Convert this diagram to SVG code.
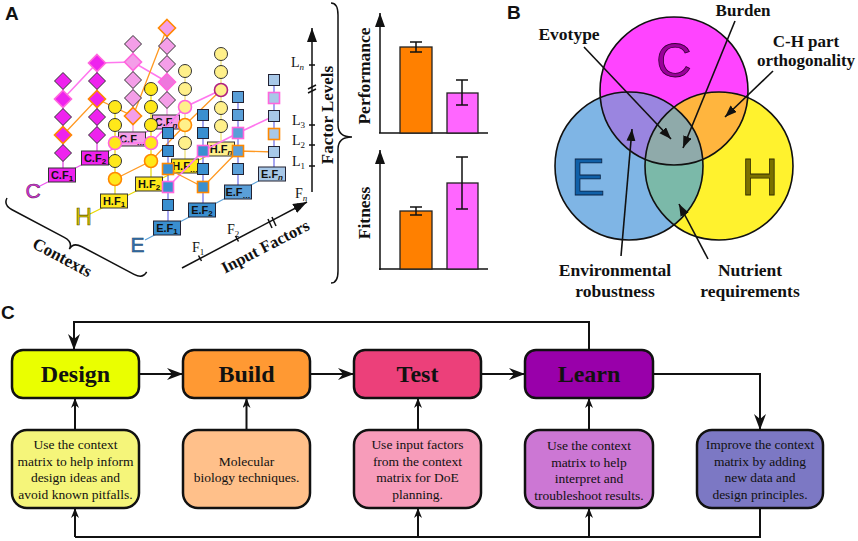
<svg xmlns="http://www.w3.org/2000/svg" width="858" height="541" viewBox="0 0 858 541">
<style>
.sb{font-family:"Liberation Serif","Times New Roman",serif;font-weight:bold;fill:#111}
.s{font-family:"Liberation Serif","Times New Roman",serif;fill:#111}
.pl{font-family:"Liberation Sans",Arial,sans-serif;font-weight:bold;font-size:19px;fill:#111}
.lb{font-family:"Liberation Sans",Arial,sans-serif;font-weight:bold;font-size:11px;fill:#111;text-anchor:middle}
.st{stroke:#111;stroke-width:2.5}
.ln{fill:none;stroke:#111;stroke-width:2}
.thin{fill:none;stroke:#111;stroke-width:1.5}
.dC{fill:#ee22ee;stroke:#333;stroke-width:1}
.dCl{fill:#f49ee8;stroke:#333;stroke-width:1}
.cH{fill:#ffe81a;stroke:#333;stroke-width:1}
.cHl{fill:#fff08a;stroke:#333;stroke-width:1}
.sE{fill:#3a8fd0;stroke:#223;stroke-width:1}
.sEm{fill:#5a9fd8;stroke:#223;stroke-width:1}
.sEl{fill:#a8c8e8;stroke:#223;stroke-width:1}
.pk{stroke:#ff66dd !important;stroke-width:1.6 !important}
.or{stroke:#ff8800 !important;stroke-width:1.6 !important}
.pkl{fill:none;stroke:#ff77ee;stroke-width:1.6}
.orl{fill:none;stroke:#ff9922;stroke-width:1.3}
</style>
<defs>
<marker id="ah" markerUnits="userSpaceOnUse" markerWidth="18" markerHeight="14" refX="16" refY="6" orient="auto"><path d="M0,0 L16,6 L0,12 L5,6z" fill="#111"/></marker>
<marker id="as" markerUnits="userSpaceOnUse" markerWidth="12" markerHeight="10" refX="10" refY="4" orient="auto"><path d="M0,0 L10,4 L0,8 L3,4z" fill="#111"/></marker>
<marker id="av" markerUnits="userSpaceOnUse" markerWidth="14" markerHeight="10" refX="12" refY="4.5" orient="auto"><path d="M0,0 L12,4.5 L0,9 z" fill="#111"/></marker>
<marker id="ax" markerUnits="userSpaceOnUse" markerWidth="16" markerHeight="12" refX="14" refY="5" orient="auto"><path d="M0,0 L14,5 L0,10 z" fill="#111"/></marker>
<clipPath id="kC"><circle cx="674" cy="91" r="74"/></clipPath>
<clipPath id="kE"><circle cx="629" cy="166" r="74"/></clipPath>
<path id="dm" d="M0,-8.5 L8.5,0 L0,8.5 L-8.5,0z"/>
</defs>
<rect width="858" height="541" fill="#fff"/>

<!-- Panel labels -->
<text class="pl" x="5" y="20">A</text>
<text class="pl" x="507" y="19">B</text>
<text class="pl" x="1" y="319">C</text>

<!-- ===== Panel A: C layer ===== -->
<g id="layerC">
<g stroke="#e040e0" stroke-width="1.2">
<line x1="63" y1="81" x2="63" y2="175"/><line x1="97" y1="63" x2="97" y2="158"/>
<line x1="133" y1="44" x2="133" y2="139" stroke="#f090e0"/><line x1="167" y1="28" x2="167" y2="122" stroke="#f090e0"/>
<line x1="38" y1="187" x2="166" y2="122" stroke="#ee55ee"/>
</g>
<polyline class="pkl" points="63,99 97,63 133,62 167,82"/>
<polyline class="orl" points="63,135 97,99 133,116 167,28"/>
<use href="#dm" x="63" y="81" class="dC"/><use href="#dm" x="63" y="99" class="dC pk"/><use href="#dm" x="63" y="117" class="dC"/><use href="#dm" x="63" y="135" class="dC or"/><use href="#dm" x="63" y="153" class="dC"/>
<use href="#dm" x="97" y="63" class="dC pk"/><use href="#dm" x="97" y="81" class="dC"/><use href="#dm" x="97" y="99" class="dC or"/><use href="#dm" x="97" y="117" class="dC"/><use href="#dm" x="97" y="135" class="dC"/>
<use href="#dm" x="133" y="44" class="dCl"/><use href="#dm" x="133" y="62" class="dCl pk"/><use href="#dm" x="133" y="80" class="dCl"/><use href="#dm" x="133" y="98" class="dCl"/><use href="#dm" x="133" y="116" class="dCl or"/>
<use href="#dm" x="167" y="28" class="dCl or"/><use href="#dm" x="167" y="46" class="dCl"/><use href="#dm" x="167" y="64" class="dCl"/><use href="#dm" x="167" y="82" class="dCl pk" style="fill:#ee77dd"/><use href="#dm" x="167" y="100" class="dCl"/>
<rect x="48.5" y="168" width="27" height="14" class="dC"/><text class="lb" x="62" y="179">C.F<tspan font-size="8" dy="2">1</tspan></text>
<rect x="81.5" y="151" width="27" height="14" class="dC"/><text class="lb" x="95" y="162">C.F<tspan font-size="8" dy="2">2</tspan></text>
<rect x="118.5" y="132" width="27" height="14" class="dCl"/><text class="lb" x="132" y="143">C.F<tspan font-size="8" dy="2">…</tspan></text>
<rect x="152.5" y="115" width="27" height="14" class="dCl"/><text class="lb" x="166" y="126">C.F<tspan font-size="8" dy="2" font-style="italic">n</tspan></text>
<text x="33" y="198" font-family="Liberation Sans,Arial,sans-serif" font-size="21" text-anchor="middle" fill="#dd33dd" stroke="#662266" stroke-width="0.6">C</text>
</g>

<!-- ===== H layer ===== -->
<g id="layerH">
<g stroke="#e8d800" stroke-width="1.2">
<line x1="115" y1="107" x2="115" y2="201"/><line x1="151" y1="89" x2="151" y2="184"/>
<line x1="185" y1="71" x2="185" y2="166" stroke="#ece070"/><line x1="221" y1="54" x2="221" y2="149" stroke="#ece070"/>
<line x1="90" y1="214" x2="221" y2="149"/>
</g>
<polyline class="pkl" points="115,143 151,143 185,107 221,90"/>
<polyline class="orl" points="115,179 151,161 185,125 221,90"/>
<g>
<circle cx="115" cy="107" r="6.5" class="cH"/><circle cx="115" cy="125" r="6.5" class="cH"/><circle cx="115" cy="143" r="6.5" class="cH pk"/><circle cx="115" cy="161" r="6.5" class="cH"/><circle cx="115" cy="179" r="6.5" class="cH or"/>
<circle cx="151" cy="89" r="6.5" class="cH"/><circle cx="151" cy="107" r="6.5" class="cH"/><circle cx="151" cy="125" r="6.5" class="cH"/><circle cx="151" cy="143" r="6.5" class="cH pk"/><circle cx="151" cy="161" r="6.5" class="cH or"/>
<circle cx="185" cy="71" r="6.5" class="cHl"/><circle cx="185" cy="89" r="6.5" class="cHl"/><circle cx="185" cy="107" r="6.5" class="cHl pk"/><circle cx="185" cy="125" r="6.5" class="cHl or"/><circle cx="185" cy="143" r="6.5" class="cHl"/>
<circle cx="221" cy="54" r="6.5" class="cHl"/><circle cx="221" cy="72" r="6.5" class="cHl"/><circle cx="221" cy="90" r="6.5" class="cHl" style="stroke:#b02080;stroke-width:1.6"/><circle cx="221" cy="108" r="6.5" class="cHl"/><circle cx="221" cy="126" r="6.5" class="cHl"/>
</g>
<rect x="100.5" y="194" width="27" height="14" class="cH"/><text class="lb" x="114" y="205">H.F<tspan font-size="8" dy="2">1</tspan></text>
<rect x="135.5" y="177" width="27" height="14" class="cH"/><text class="lb" x="149" y="188">H.F<tspan font-size="8" dy="2">2</tspan></text>
<rect x="171.5" y="159" width="27" height="14" class="cH"/><text class="lb" x="185" y="170">H.F<tspan font-size="8" dy="2">…</tspan></text>
<rect x="207.5" y="142" width="27" height="14" class="cHl"/><text class="lb" x="221" y="153">H.F<tspan font-size="8" dy="2" font-style="italic">n</tspan></text>
<text x="83.5" y="225" font-family="Liberation Sans,Arial,sans-serif" font-size="23" text-anchor="middle" fill="#d8c400" stroke="#555000" stroke-width="0.6">H</text>
</g>

<!-- ===== E layer ===== -->
<g id="layerE">
<g stroke="#6a6ae8" stroke-width="1.2">
<line x1="168" y1="133" x2="168" y2="228"/><line x1="203" y1="115" x2="203" y2="210"/>
<line x1="238" y1="97" x2="238" y2="192"/><line x1="274" y1="80" x2="274" y2="174"/>
<line x1="145" y1="240" x2="272" y2="174" stroke="#5aa0d8"/>
</g>
<polyline class="pkl" points="168,187 203,151 238,133 274,116"/>
<polyline class="orl" points="168,169 203,187 238,151 274,152"/>
<g>
<rect x="162.5" y="127.5" width="11" height="11" class="sE"/><rect x="162.5" y="145.5" width="11" height="11" class="sE"/><rect x="162.5" y="163.5" width="11" height="11" class="sE or"/><rect x="162.5" y="181.5" width="11" height="11" class="sE pk"/><rect x="162.5" y="199.5" width="11" height="11" class="sE"/>
<rect x="197.5" y="109.5" width="11" height="11" class="sE"/><rect x="197.5" y="127.5" width="11" height="11" class="sE"/><rect x="197.5" y="145.5" width="11" height="11" class="sE pk"/><rect x="197.5" y="163.5" width="11" height="11" class="sE"/><rect x="197.5" y="181.5" width="11" height="11" class="sE or"/>
<rect x="232.5" y="91.5" width="11" height="11" class="sEm"/><rect x="232.5" y="109.5" width="11" height="11" class="sEm"/><rect x="232.5" y="127.5" width="11" height="11" class="sEm pk"/><rect x="232.5" y="145.5" width="11" height="11" class="sEm or"/><rect x="232.5" y="163.5" width="11" height="11" class="sEm"/>
<rect x="268.5" y="74.5" width="11" height="11" class="sEl"/><rect x="268.5" y="92.5" width="11" height="11" class="sEl pk"/><rect x="268.5" y="110.5" width="11" height="11" class="sEl"/><rect x="268.5" y="128.5" width="11" height="11" class="sEl or"/><rect x="268.5" y="146.5" width="11" height="11" class="sEl"/>
</g>
<rect x="153.5" y="221" width="27" height="14" class="sE"/><text class="lb" x="167" y="232">E.F<tspan font-size="8" dy="2">1</tspan></text>
<rect x="188.5" y="203" width="27" height="14" class="sE"/><text class="lb" x="202" y="214">E.F<tspan font-size="8" dy="2">2</tspan></text>
<rect x="224.5" y="185" width="27" height="14" class="sEm"/><text class="lb" x="238" y="196">E.F<tspan font-size="8" dy="2">…</tspan></text>
<rect x="258.5" y="167" width="27" height="14" class="sEl"/><text class="lb" x="272" y="178">E.F<tspan font-size="8" dy="2" font-style="italic">n</tspan></text>
<text x="137.5" y="252" font-family="Liberation Sans,Arial,sans-serif" font-size="21" text-anchor="middle" fill="#3378b8" stroke="#1a3a60" stroke-width="0.5">E</text>
</g>

<!-- Contexts brace -->
<g id="contexts">
<path class="thin" transform="translate(7,198) rotate(27.9)" d="M0,0 Q0,8 10,8 L69,8 Q79,8 79,16 Q79,8 89,8 L148,8 Q158,8 158,0"/>
<text class="sb" font-size="17" text-anchor="middle" transform="translate(62,258) rotate(28)" y="5">Contexts</text>
</g>

<!-- Input factors axis -->
<g id="inputAxis">
<line class="thin" x1="182" y1="268" x2="307" y2="202" marker-end="url(#ax)"/>
<g class="thin">
<line x1="198.5" y1="255.5" x2="201.5" y2="261"/>
<line x1="235.5" y1="236" x2="238.5" y2="241.5"/>
<line x1="268" y1="219" x2="272" y2="228"/><line x1="272" y1="217" x2="276" y2="226"/>
<line x1="297.5" y1="203.5" x2="300.5" y2="209"/>
</g>
<text class="s" font-size="14" x="192" y="252">F<tspan font-size="9" dy="3">1</tspan></text>
<text class="s" font-size="14" x="227" y="234">F<tspan font-size="9" dy="3">2</tspan></text>
<text class="s" font-size="14" x="295" y="198">F<tspan font-size="9" dy="3" font-style="italic">n</tspan></text>
<text class="sb" font-size="16.5" text-anchor="middle" transform="translate(265,246) rotate(-27.5)" y="6">Input Factors</text>
</g>

<!-- Factor levels axis -->
<g id="levelAxis">
<line class="thin" x1="312" y1="192" x2="312" y2="28" marker-end="url(#ax)"/>
<g class="thin">
<line x1="309" y1="65" x2="315" y2="65"/><line x1="309" y1="125" x2="315" y2="125"/><line x1="309" y1="145" x2="315" y2="145"/><line x1="309" y1="166" x2="315" y2="166"/>
<line x1="308" y1="89" x2="316" y2="85"/><line x1="308" y1="93" x2="316" y2="89"/>
</g>
<text class="s" font-size="14" x="291" y="67">L<tspan font-size="9" dy="3" font-style="italic">n</tspan></text>
<text class="s" font-size="14" x="292" y="125">L<tspan font-size="9" dy="3">3</tspan></text>
<text class="s" font-size="14" x="292" y="145">L<tspan font-size="9" dy="3">2</tspan></text>
<text class="s" font-size="14" x="292" y="166">L<tspan font-size="9" dy="3">1</tspan></text>
<text class="sb" font-size="17" text-anchor="middle" transform="translate(333,115) rotate(-90)">Factor Levels</text>
</g>

<!-- right brace -->
<path id="bigBrace" class="thin" d="M331,3 Q338,3 338,15 L338,125 Q338,137 352,137 Q338,137 338,149 L338,271 Q338,283 331,283"/>

<!-- Performance chart -->
<g id="perfChart">
<line class="thin" x1="380" y1="133" x2="380" y2="13" marker-end="url(#ax)"/>
<line class="thin" x1="379" y1="133" x2="488" y2="133"/>
<rect x="400" y="47" width="32" height="86" fill="#ff8000" stroke="#222" stroke-width="1.3"/>
<rect x="447" y="93" width="31" height="40" fill="#ff66ff" stroke="#222" stroke-width="1.3"/>
<path class="thin" d="M410,42 H422 M416,42 V52 M410,52 H422 M456,80 H468 M462,80 V105 M456,105 H468"/>
<text class="sb" font-size="17.5" text-anchor="middle" transform="translate(370,76) rotate(-90)">Performance</text>
</g>
<!-- Fitness chart -->
<g id="fitChart">
<line class="thin" x1="380" y1="270" x2="380" y2="150" marker-end="url(#ax)"/>
<line class="thin" x1="379" y1="269" x2="488" y2="269"/>
<rect x="400" y="211" width="32" height="58" fill="#ff8000" stroke="#222" stroke-width="1.3"/>
<rect x="447" y="183" width="31" height="86" fill="#ff66ff" stroke="#222" stroke-width="1.3"/>
<path class="thin" d="M410,207 H422 M416,207 V215 M410,215 H422 M456,157 H468 M462,157 V209 M456,209 H468"/>
<text class="sb" font-size="17.5" text-anchor="middle" transform="translate(370,213) rotate(-90)">Fitness</text>
</g>

<!-- ===== Panel B: Venn ===== -->
<g id="venn">
<circle cx="674" cy="91" r="74" fill="#ff44ff"/>
<circle cx="629" cy="166" r="74" fill="#7fb5e5"/>
<circle cx="719" cy="166" r="74" fill="#fff22e"/>
<g clip-path="url(#kC)"><circle cx="629" cy="166" r="74" fill="#9a85e0"/><circle cx="719" cy="166" r="74" fill="#ffb53e"/></g>
<g clip-path="url(#kE)"><circle cx="719" cy="166" r="74" fill="#7bb9a9"/></g>
<g clip-path="url(#kC)"><g clip-path="url(#kE)"><circle cx="719" cy="166" r="74" fill="#8faaaa"/></g></g>
<g fill="none" stroke="#111" stroke-width="1.6">
<circle cx="674" cy="91" r="74"/><circle cx="629" cy="166" r="74"/><circle cx="719" cy="166" r="74"/>
</g>
<text x="674" y="77" font-family="Liberation Sans,Arial,sans-serif" font-size="49" text-anchor="middle" fill="#990099" stroke="#330033" stroke-width="0.8">C</text>
<text x="588" y="195" font-family="Liberation Sans,Arial,sans-serif" font-size="51" text-anchor="middle" fill="#1060a8" stroke="#0a2040" stroke-width="0.8">E</text>
<text x="760" y="195" font-family="Liberation Sans,Arial,sans-serif" font-size="51" text-anchor="middle" fill="#7a7000" stroke="#302c00" stroke-width="0.8">H</text>
</g>
<g id="vennLabels">
<text class="sb" font-size="17.5" text-anchor="middle" x="569" y="40">Evotype</text>
<text class="sb" font-size="17" text-anchor="middle" x="743" y="16">Burden</text>
<text class="sb" font-size="17" text-anchor="middle" x="806" y="47">C-H part</text>
<text class="sb" font-size="17" text-anchor="middle" x="806" y="66">orthogonality</text>
<text class="sb" font-size="17.5" text-anchor="middle" x="615" y="276">Environmental</text>
<text class="sb" font-size="17.5" text-anchor="middle" x="615" y="297">robustness</text>
<text class="sb" font-size="17.5" text-anchor="middle" x="750" y="276">Nutrient</text>
<text class="sb" font-size="17.5" text-anchor="middle" x="750" y="297">requirements</text>
</g>
<g id="vennArrows" stroke="#111" stroke-width="1.6" fill="none">
<line x1="584" y1="47" x2="671" y2="139" marker-end="url(#av)"/>
<line x1="735" y1="21" x2="683" y2="148" marker-end="url(#av)"/>
<line x1="773" y1="71" x2="725" y2="117" marker-end="url(#av)"/>
<line x1="621" y1="256" x2="632" y2="129" marker-end="url(#av)"/>
<line x1="708" y1="259" x2="679" y2="204" marker-end="url(#av)"/>
</g>

<!-- ===== Panel C ===== -->
<g id="connectors">
<line class="ln" x1="139" y1="374" x2="183" y2="374" marker-end="url(#ah)"/>
<line class="ln" x1="310" y1="374" x2="354" y2="374" marker-end="url(#ah)"/>
<line class="ln" x1="481" y1="374" x2="525" y2="374" marker-end="url(#ah)"/>
<polyline class="ln" points="589,350 589,322 74,322 74,350" marker-end="url(#ah)"/>
<polyline class="ln" points="653,374 760,374 760,430" marker-end="url(#ah)"/>
<line class="ln" x1="75" y1="430" x2="75" y2="398" marker-end="url(#as)"/>
<line class="ln" x1="246.5" y1="430" x2="246.5" y2="398" marker-end="url(#as)"/>
<line class="ln" x1="418" y1="430" x2="418" y2="398" marker-end="url(#as)"/>
<line class="ln" x1="589" y1="430" x2="589" y2="398" marker-end="url(#as)"/>
<polyline class="ln" points="760,508 760,537 75,537"/>
<line class="ln" x1="75" y1="537" x2="75" y2="508" marker-end="url(#as)"/>
<line class="ln" x1="418" y1="537" x2="418" y2="508" marker-end="url(#as)"/>
<line class="ln" x1="589" y1="537" x2="589" y2="508" marker-end="url(#as)"/>
</g>
<g id="design"><rect class="st" x="12" y="350" width="127" height="48" rx="11" fill="#eaff00"/><text class="sb" font-size="24" text-anchor="middle" x="75.5" y="382">Design</text></g>
<g id="build"><rect class="st" x="183" y="350" width="127" height="48" rx="11" fill="#ff9933"/><text class="sb" font-size="24" text-anchor="middle" x="246.5" y="382">Build</text></g>
<g id="test"><rect class="st" x="354" y="350" width="127" height="48" rx="11" fill="#ec407a"/><text class="sb" font-size="24" text-anchor="middle" x="417.5" y="382">Test</text></g>
<g id="learn"><rect class="st" x="525" y="350" width="128" height="48" rx="11" fill="#9900aa"/><text class="sb" font-size="24" text-anchor="middle" x="589" y="382">Learn</text></g>

<g id="designDesc"><rect class="st" x="12" y="430" width="127" height="78" rx="15" fill="#f5f57a"/>
<text class="s" font-size="13.5" text-anchor="middle"><tspan x="75.5" y="449">Use the context</tspan><tspan x="75.5" y="465.5">matrix to help inform</tspan><tspan x="75.5" y="482">design ideas and</tspan><tspan x="75.5" y="498.5">avoid known pitfalls.</tspan></text></g>
<g id="buildDesc"><rect class="st" x="183" y="430" width="127" height="78" rx="15" fill="#ffc08a"/>
<text class="s" font-size="13.5" text-anchor="middle"><tspan x="246.5" y="465.5">Molecular</tspan><tspan x="246.5" y="482">biology techniques.</tspan></text></g>
<g id="testDesc"><rect class="st" x="354" y="430" width="127" height="78" rx="15" fill="#f79cba"/>
<text class="s" font-size="13.5" text-anchor="middle"><tspan x="417.5" y="449">Use input factors</tspan><tspan x="417.5" y="465.5">from the context</tspan><tspan x="417.5" y="482">matrix for DoE</tspan><tspan x="417.5" y="498.5">planning.</tspan></text></g>
<g id="learnDesc"><rect class="st" x="525" y="430" width="128" height="78" rx="15" fill="#cc77d4"/>
<text class="s" font-size="13.5" text-anchor="middle"><tspan x="589" y="450">Use the context</tspan><tspan x="589" y="466.5">matrix to help</tspan><tspan x="589" y="483">interpret and</tspan><tspan x="589" y="499.5">troubleshoot results.</tspan></text></g>
<g id="improveDesc"><rect class="st" x="697" y="430" width="126" height="78" rx="15" fill="#7c78c4"/>
<text class="s" font-size="13.5" text-anchor="middle"><tspan x="760" y="449">Improve the context</tspan><tspan x="760" y="465.5">matrix by adding</tspan><tspan x="760" y="482">new data and</tspan><tspan x="760" y="498.5">design principles.</tspan></text></g>
</svg>
